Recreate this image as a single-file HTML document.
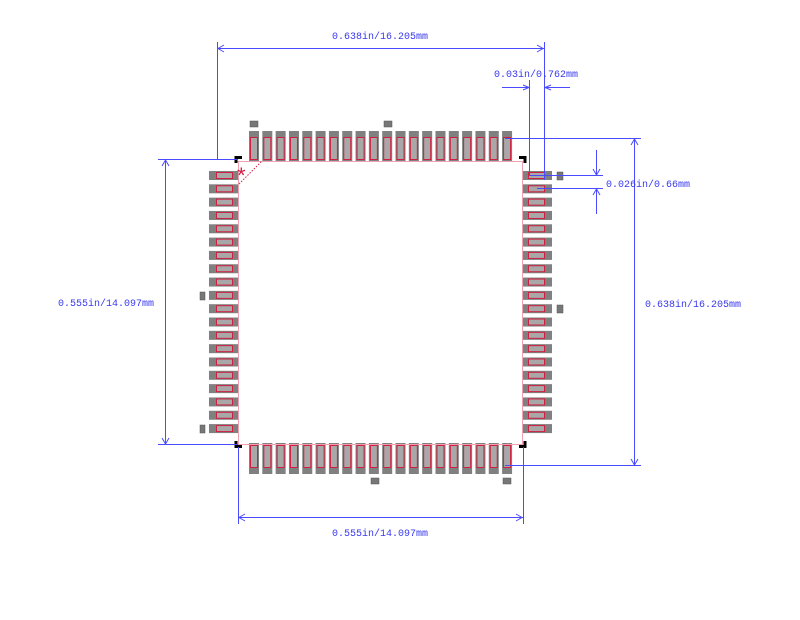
<!DOCTYPE html>
<html><head><meta charset="utf-8"><style>
html,body{margin:0;padding:0;background:#fff;width:800px;height:620px;overflow:hidden}
svg text{font-family:"Liberation Mono","DejaVu Sans Mono",monospace;font-size:10px;fill:#3838ee}
</style></head><body>
<svg id="s" width="800" height="620" xmlns="http://www.w3.org/2000/svg">
<g id="pads"></g>
<g stroke="#f0a0b0" stroke-width="1" fill="none">
<line x1="237" y1="161.5" x2="523" y2="161.5"/>
<line x1="237" y1="444.5" x2="523" y2="444.5"/>
<line x1="238.5" y1="161" x2="238.5" y2="445"/>
<line x1="522.5" y1="161" x2="522.5" y2="445"/>
</g>
<line x1="239" y1="184" x2="262" y2="161" stroke="#d02040" stroke-width="1" stroke-dasharray="1.5,1.5"/>
<text x="237" y="183" style="fill:#d02040;font-size:22px;font-family:'Liberation Sans',sans-serif">*</text>
<g stroke="#000" stroke-width="3" fill="none">
<polyline points="236,163 236,157.5 242,157.5"/>
<polyline points="519,157.5 525,157.5 525,163"/>
<polyline points="236,441 236,446.5 242,446.5"/>
<polyline points="519,446.5 525,446.5 525,441"/>
</g>
<g fill="#777" stroke="#555" stroke-width="0.5">
<rect x="250" y="121" width="8" height="6"/>
<rect x="384" y="121" width="8" height="6"/>
<rect x="557" y="172" width="6" height="8"/>
<rect x="557" y="305" width="6" height="8"/>
<rect x="200" y="292" width="5" height="8"/>
<rect x="200" y="425" width="5" height="8"/>
<rect x="371" y="478" width="8" height="6"/>
<rect x="503" y="478" width="8" height="6"/>
</g>
<g stroke="#4a4aff" stroke-width="1" fill="none">
<line x1="217.5" y1="42" x2="217.5" y2="160"/>
<line x1="544.5" y1="42" x2="544.5" y2="180"/>
<line x1="217" y1="48.5" x2="544" y2="48.5"/>
<polyline points="224,45 218,48.5 224,52"/>
<polyline points="537,45 543,48.5 537,52"/>
<line x1="529.5" y1="80" x2="529.5" y2="176"/>
<line x1="502" y1="87.5" x2="529" y2="87.5"/>
<line x1="544" y1="87.5" x2="570" y2="87.5"/>
<polyline points="523,85 529,87.5 523,90"/>
<polyline points="551,85 545,87.5 551,90"/>
<line x1="505" y1="138.5" x2="641" y2="138.5"/>
<line x1="505" y1="465.5" x2="641" y2="465.5"/>
<line x1="634.5" y1="138" x2="634.5" y2="466"/>
<polyline points="631,145 634.5,139 638,145"/>
<polyline points="631,459 634.5,465 638,459"/>
<line x1="529" y1="175.5" x2="603" y2="175.5"/>
<line x1="537" y1="188.5" x2="603" y2="188.5"/>
<line x1="596.5" y1="150" x2="596.5" y2="175"/>
<line x1="596.5" y1="189" x2="596.5" y2="214"/>
<polyline points="593,169 596.5,175 600,169"/>
<polyline points="593,195 596.5,189 600,195"/>
<line x1="158" y1="159.5" x2="238" y2="159.5"/>
<line x1="158" y1="444.5" x2="238" y2="444.5"/>
<line x1="165.5" y1="159" x2="165.5" y2="445"/>
<polyline points="162,166 165.5,160 169,166"/>
<polyline points="162,438 165.5,444 169,438"/>
<line x1="238.5" y1="447" x2="238.5" y2="524"/>
<line x1="523.5" y1="447" x2="523.5" y2="524"/>
<line x1="238" y1="517.5" x2="523" y2="517.5"/>
<polyline points="245,514 239,517.5 245,521"/>
<polyline points="516,514 522,517.5 516,521"/>
</g>
<text x="332" y="39">0.638in/16.205mm</text>
<text x="494" y="77">0.03in/0.762mm</text>
<text x="606" y="187">0.026in/0.66mm</text>
<text x="645" y="307">0.638in/16.205mm</text>
<text x="58" y="306">0.555in/14.097mm</text>
<text x="332" y="536">0.555in/14.097mm</text>
</svg>
<script>
var g=document.getElementById('pads'),p=13.32,h='';
function r(x,y,w,hh,f,s){h+='<rect x="'+x+'" y="'+y+'" width="'+w+'" height="'+hh+'" fill="'+f+'"'+(s?' stroke="'+s+'" stroke-width="1"':'')+'/>';}
for(var i=0;i<20;i++){
 var x=249+i*p;
 r(x,131,10,31,'#808080');r(x+1.5,137.5,7,22,'#a8a8a8','#d02040');
 r(x,443,10,31,'#808080');r(x+1.5,445.5,7,22,'#a8a8a8','#d02040');
 var y=171+i*p;
 r(209,y,30,9,'#808080');r(216.5,y+1.5,16,6,'#a8a8a8','#d02040');
 r(522,y,30,9,'#808080');r(528.5,y+1.5,16,6,'#a8a8a8','#d02040');
}
g.innerHTML=h;
</script>
</body></html>
